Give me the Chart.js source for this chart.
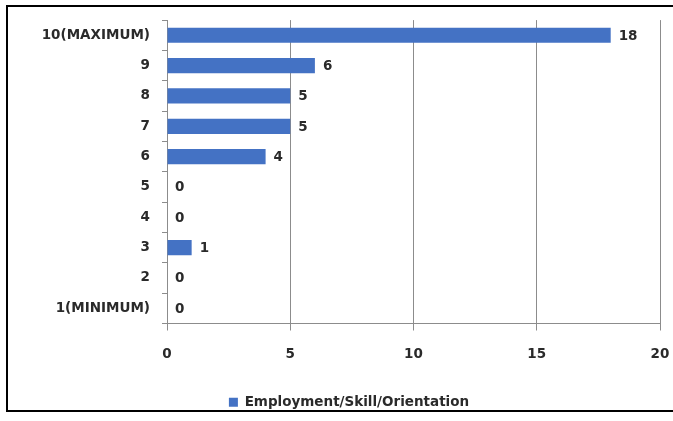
<!DOCTYPE html>
<html>
<head>
<meta charset="utf-8">
<script src="https://cdn.jsdelivr.net/npm/chart.js@4"></script>
<style>
  html, body { margin: 0; padding: 0; background: #fff; }
  #wrap { width: 673px; height: 421px; position: relative; }
</style>
</head>
<body>
<div id="wrap"><canvas id="chart" width="673" height="421"></canvas></div>
<script>
// categories top -> bottom
const CATEGORIES = ['10(MAXIMUM)', '9', '8', '7', '6', '5', '4', '3', '2', '1(MINIMUM)'];
const VALUES = [18, 6, 5, 5, 4, 0, 0, 1, 0, 0];
const SERIES_NAME = 'Employment/Skill/Orientation';
const X_TICKS = [0, 5, 10, 15, 20];

const BAR_COLOR = '#4472C4';
const TEXT_COLOR = '#2a2a2a';
const FONT = { family: 'DejaVu Sans', size: 13.5, weight: 'bold' };

// valores ao lado das barras
const valueLabels = {
  id: 'valueLabels',
  afterDatasetsDraw(chart) {
    const ctx = chart.ctx;
    const meta = chart.getDatasetMeta(0);
    ctx.save();
    ctx.font = `${FONT.weight} ${FONT.size}px ${FONT.family}`;
    ctx.fillStyle = TEXT_COLOR;
    ctx.textAlign = 'left';
    ctx.textBaseline = 'middle';
    meta.data.forEach((bar, i) => {
      ctx.fillText(String(VALUES[i]), bar.x + 8, bar.y + 1);
    });
    ctx.restore();
  }
};

// moldura preta + legenda um pouco à direita
const frame = {
  id: 'frame',
  afterLayout(chart) {
    chart.legend.left += 19;
    chart.legend.right += 19;
  },
  afterDraw(chart) {
    const ctx = chart.ctx;
    ctx.save();
    ctx.strokeStyle = '#000';
    ctx.lineWidth = 2;
    ctx.strokeRect(7, 6, 700, 405);
    ctx.restore();
  }
};

new Chart(document.getElementById('chart'), {
  type: 'bar',
  data: {
    labels: CATEGORIES,
    datasets: [{
      label: SERIES_NAME,
      data: VALUES,
      backgroundColor: BAR_COLOR,
      borderWidth: 0,
      barPercentage: 0.5,
      categoryPercentage: 1.0
    }]
  },
  options: {
    indexAxis: 'y',
    responsive: false,
    animation: false,
    layout: { padding: { top: 19, right: 13, bottom: 2, left: 0 } },
    plugins: {
      legend: {
        position: 'bottom',
        labels: {
          boxWidth: 9,
          boxHeight: 9,
          padding: 8,
          color: TEXT_COLOR,
          font: FONT
        }
      },
      tooltip: { enabled: false }
    },
    scales: {
      x: {
        min: 0,
        max: 20,
        afterBuildTicks: s => { s.ticks = X_TICKS.map(v => ({ value: v })); },
        afterFit: s => { s.height = 64; s.paddingRight = 0; s.paddingLeft = 0; },
        grid: { color: '#8c8c8c', lineWidth: 1, tickLength: 7 },
        border: { color: '#8c8c8c' },
        ticks: { color: TEXT_COLOR, font: FONT, padding: 16 }
      },
      y: {
        afterFit: s => { s.width = 167; },
        grid: {
          offset: true,
          drawOnChartArea: false,
          color: '#8c8c8c',
          tickLength: 5
        },
        border: { color: '#8c8c8c' },
        ticks: { color: TEXT_COLOR, font: FONT, padding: 12 }
      }
    }
  },
  plugins: [valueLabels, frame]
});
</script>
</body>
</html>
